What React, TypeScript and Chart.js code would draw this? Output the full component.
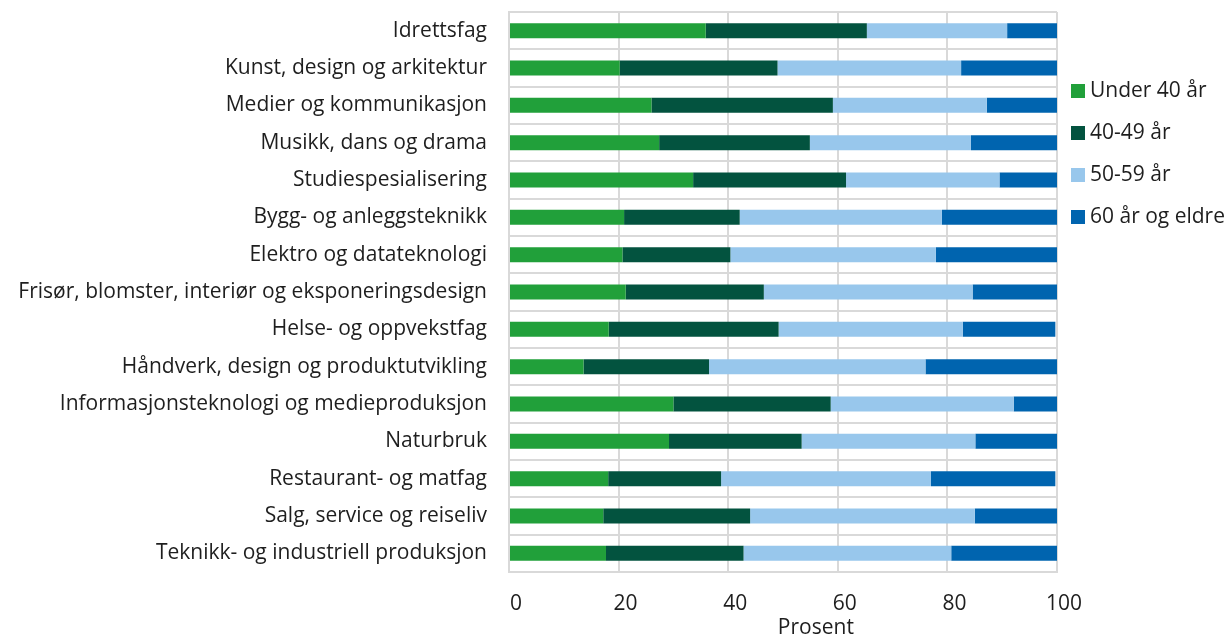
import React, { useEffect, useRef } from "react";
import { Chart, registerables } from "chart.js";

Chart.register(...registerables);

const categories = [
  "Idrettsfag",
  "Kunst, design og arkitektur",
  "Medier og kommunikasjon",
  "Musikk, dans og drama",
  "Studiespesialisering",
  "Bygg- og anleggsteknikk",
  "Elektro og datateknologi",
  "Frisør, blomster, interiør og eksponeringsdesign",
  "Helse- og oppvekstfag",
  "Håndverk, design og produktutvikling",
  "Informasjonsteknologi og medieproduksjon",
  "Naturbruk",
  "Restaurant- og matfag",
  "Salg, service og reiseliv",
  "Teknikk- og industriell produksjon",
];

const seriesNames = ["Under 40 år", "40-49 år", "50-59 år", "60 år og eldre"];
const under40 = [35.9, 20.2, 26.0, 27.4, 33.6, 21.0, 20.7, 21.3, 18.2, 13.6, 30.0, 29.2, 18.1, 17.2, 17.7];
const age4049 = [29.4, 28.8, 33.1, 27.5, 27.9, 21.1, 19.7, 25.2, 31.0, 22.9, 28.7, 24.2, 20.6, 26.8, 25.1];
const age5059 = [25.6, 33.5, 28.1, 29.4, 28.0, 36.9, 37.5, 38.1, 33.6, 39.5, 33.4, 31.7, 38.3, 41.0, 37.9];
const age60 = [9.1, 17.5, 12.8, 15.7, 10.5, 21.0, 22.1, 15.4, 16.9, 24.0, 7.9, 14.9, 22.7, 15.0, 19.3];
const xTicks = [0, 20, 40, 60, 80, 100];
const axisTitle = "Prosent";

const colors = ["#21A03A", "#03533F", "#98C7EC", "#0064AF"];
const FONT = "'Open Sans', sans-serif";
const FONT_SIZE = 21;
const TEXT = "#1e1e1e";

export default function App() {
  const ref = useRef<HTMLCanvasElement | null>(null);

  useEffect(() => {
    document.body.style.margin = "0";
    const canvas = ref.current;
    if (!canvas) return;

    const customDraw = {
      id: "customDraw",
      afterDraw(chart: any) {
        const ctx = chart.ctx;
        const area = chart.chartArea;
        ctx.save();
        ctx.font = `${FONT_SIZE}px ${FONT}`;
        ctx.fillStyle = TEXT;
        ctx.textAlign = "center";
        ctx.textBaseline = "middle";
        ctx.fillText(axisTitle, area.left + (area.right - area.left) * 0.56, 628);
        const x0 = area.right + 14;
        const y0 = 91;
        const step = 42;
        chart.data.datasets.forEach((ds: any, i: number) => {
          const cy = y0 + i * step;
          ctx.fillStyle = ds.backgroundColor;
          ctx.fillRect(x0, cy - 7, 14, 14);
          ctx.fillStyle = TEXT;
          ctx.textAlign = "left";
          ctx.textBaseline = "middle";
          ctx.fillText(ds.label, x0 + 19, cy);
        });
        ctx.restore();
      },
    };

    const chart = new Chart(canvas, {
      type: "bar",
      data: {
        labels: categories,
        datasets: [under40, age4049, age5059, age60].map((d, i) => ({
          label: seriesNames[i],
          data: d,
          backgroundColor: colors[i],
          borderWidth: 0,
          barPercentage: 0.8,
          categoryPercentage: 0.5,
        })),
      },
      options: {
        indexAxis: "y",
        responsive: false,
        animation: false,
        layout: { padding: { top: 12, right: 169, bottom: 0, left: 0 } },
        plugins: {
          legend: { display: false },
          tooltip: { enabled: false },
        },
        scales: {
          x: {
            stacked: true,
            min: 0,
            max: 100,
            afterBuildTicks: (scale: any) => {
              scale.ticks = xTicks.map((v) => ({ value: v }));
            },
            afterFit: (scale: any) => {
              scale.height = 65;
              scale.paddingLeft = 0;
              scale.paddingRight = 0;
            },
            grid: { color: "#d9d9d9", lineWidth: 2, drawTicks: false },
            border: { display: true, color: "#d9d9d9", width: 2 },
            ticks: {
              font: { family: FONT, size: FONT_SIZE },
              color: TEXT,
              padding: 19,
              labelOffset: 7,
              maxRotation: 0,
            },
          },
          y: {
            stacked: true,
            afterFit: (scale: any) => {
              scale.width = 509;
              scale.paddingTop = 0;
              scale.paddingBottom = 0;
            },
            grid: { color: "#d9d9d9", lineWidth: 2, drawTicks: false, offset: true },
            border: { display: true, color: "#d9d9d9", width: 2 },
            ticks: {
              font: { family: FONT, size: FONT_SIZE },
              color: TEXT,
              padding: 22,
              autoSkip: false,
            },
          },
        },
      },
      plugins: [customDraw],
    } as any);

    return () => chart.destroy();
  }, []);

  return (
    <div style={{ width: 1226, height: 637, position: "relative" }}>
      <canvas ref={ref} width={1226} height={637} style={{ display: "block" }} />
    </div>
  );
}
